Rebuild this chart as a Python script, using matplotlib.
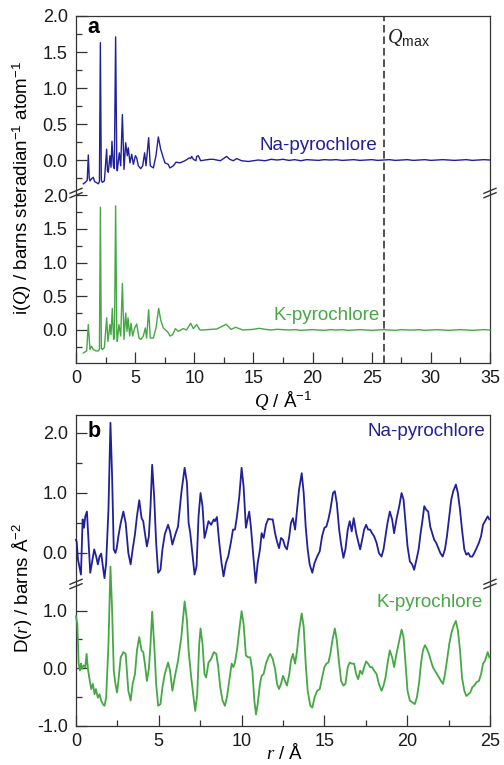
import matplotlib
matplotlib.use('Agg')
import matplotlib.pyplot as plt
from matplotlib.lines import Line2D
from matplotlib.ticker import MultipleLocator, FixedLocator, FormatStrFormatter

plt.rcParams.update({
    'font.family': ['Liberation Sans', 'DejaVu Sans'],
    'mathtext.fontset': 'custom',
    'mathtext.rm': 'Liberation Sans',
    'mathtext.it': 'Liberation Serif:italic',
    'mathtext.bf': 'Liberation Sans:bold',
    'axes.unicode_minus': False,
})

# ---------------- data: panel a, i(Q) ----------------
q_na = [0.62, 0.80, 0.95, 1.04, 1.12, 1.18, 1.32, 1.46, 1.58, 1.69, 1.89, 1.98, 2.06, 2.14, 2.23,
        2.40, 2.59, 2.66, 2.73, 2.87, 2.96, 3.04, 3.16, 3.24, 3.35, 3.45, 3.49, 3.66, 3.78, 3.92,
        4.06, 4.20, 4.34, 4.42, 4.56, 4.71, 4.85, 5.02, 5.13, 5.27, 5.47, 5.64, 5.80, 5.92, 6.14,
        6.28, 6.54, 6.76, 6.96, 7.16, 7.38, 7.52, 7.80, 7.94, 8.23, 8.45, 8.79, 9.21, 9.58, 9.69,
        9.78, 9.92, 10.14, 10.20, 10.34, 10.54, 10.90, 11.33, 11.6, 12.2, 12.73, 13.0, 13.3, 13.58,
        14.0, 14.57, 15.0, 15.4, 16.0, 16.5, 17.0, 17.5, 18.0, 18.5, 19.0, 19.5, 20.0, 20.5, 21.0,
        21.5, 22.0, 22.5, 23.0, 23.5, 24.0, 24.5, 25.0, 25.5, 26.0, 26.5, 27.0, 27.5, 28.0, 28.5,
        29.0, 29.5, 30.0, 30.5, 31.0, 31.5, 32.0, 32.5, 33.0, 33.5, 34.0, 34.5, 35.0]
iq_na = [-0.33, -0.31, -0.28, 0.07, -0.25, -0.29, -0.26, -0.24, -0.30, -0.31, -0.33, -0.30, 1.63, -0.28, -0.31,
         -0.29, 0.15, -0.15, -0.17, 0.06, -0.10, 0.26, -0.08, -0.12, 1.71, -0.10, -0.15, 0.10, -0.08, 0.63,
         -0.13, 0.24, 0.06, 0.17, -0.04, 0.08, -0.06, 0.06, 0.03, -0.08, -0.12, -0.08, 0.10, -0.08, 0.31,
         -0.08, -0.11, 0.06, 0.32, 0.15, 0.03, -0.04, -0.06, -0.11, -0.08, -0.03, -0.04, -0.01, 0.03, 0.02,
         0.05, 0.01, -0.01, 0.05, 0.06, -0.01, 0.00, 0.01, 0.01, -0.01, 0.05, 0.01, -0.01, 0.02,
         -0.01, -0.02, -0.01, 0.00, -0.01, 0.01, 0.00, 0.01, -0.005, 0.005, -0.01, 0.005, 0.0, -0.005, 0.005,
         0.0, 0.005, -0.005, 0.0, 0.005, -0.005, 0.0, 0.005, -0.005, 0.0, 0.005, -0.005, 0.0, 0.005, -0.005,
         0.0, 0.005, -0.005, 0.0, 0.005, 0.0, -0.005, 0.0, 0.005, -0.005, 0.0, 0.005, 0.0]

q_k = [0.62, 0.90, 1.04, 1.18, 1.32, 1.46, 1.69, 1.89, 1.98, 2.06, 2.14, 2.23, 2.40, 2.59, 2.70,
       2.87, 2.96, 3.07, 3.18, 3.25, 3.35, 3.45, 3.49, 3.63, 3.78, 3.92, 4.06, 4.20, 4.31, 4.40,
       4.54, 4.65, 4.79, 4.96, 5.13, 5.33, 5.49, 5.69, 5.86, 5.97, 6.14, 6.28, 6.54, 6.76, 6.99,
       7.16, 7.38, 7.58, 7.80, 7.94, 8.17, 8.40, 8.65, 9.07, 9.35, 9.69, 9.92, 10.20, 10.48, 10.76,
       11.05, 11.9, 12.7, 13.1, 13.5, 14.1, 15.0, 15.5, 16.0, 16.5, 17.0, 17.5, 18.0, 18.5, 19.0,
       19.5, 20.0, 20.5, 21.0, 21.5, 22.0, 22.5, 23.0, 23.5, 24.0, 24.5, 25.0, 25.5, 26.0, 26.5,
       27.0, 27.5, 28.0, 28.5, 29.0, 29.5, 30.0, 30.5, 31.0, 31.5, 32.0, 32.5, 33.0, 33.5, 34.0,
       34.5, 35.0]
iq_k = [-0.34, -0.31, 0.08, -0.29, -0.24, -0.29, -0.31, -0.31, -0.28, 1.82, -0.27, -0.29, -0.26, 0.18, -0.17,
        0.08, -0.07, 0.32, -0.14, -0.12, 1.84, -0.07, -0.17, 0.08, -0.09, 0.69, -0.14, 0.25, -0.02, 0.18,
        -0.09, 0.10, -0.09, 0.03, 0.09, -0.12, -0.14, -0.09, 0.03, -0.12, 0.30, -0.12, -0.12, 0.03, 0.32,
        0.15, 0.03, 0.00, -0.04, -0.09, -0.07, 0.02, -0.02, 0.02, 0.00, 0.10, 0.02, 0.08, 0.00, 0.00,
        0.005, 0.015, 0.085, 0.01, 0.04, 0.0, 0.01, 0.025, 0.01, 0.0, 0.01, 0.005, 0.0, 0.005, -0.005,
        0.0, 0.005, 0.0, -0.005, 0.005, 0.0, 0.005, -0.005, 0.0, 0.005, 0.0, -0.005, 0.0, 0.005, 0.0,
        -0.005, 0.005, 0.0, 0.0, 0.005, -0.005, 0.0, 0.005, 0.0, -0.005, 0.0, 0.005, 0.0, -0.005, 0.0,
        0.005, 0.0]

# ---------------- data: panel b, D(r) ----------------
r_na = [0.00, 0.04, 0.12, 0.20, 0.30, 0.40, 0.48, 0.56, 0.66, 0.76, 0.86, 0.96, 1.10, 1.22, 1.32,
        1.42, 1.52, 1.62, 1.72, 1.82, 1.96, 2.08, 2.18, 2.28, 2.38, 2.46, 2.56, 2.70, 2.86, 3.00,
        3.16, 3.30, 3.42, 3.56, 3.68, 3.82, 3.96, 4.06, 4.16, 4.28, 4.40, 4.50, 4.60, 4.72, 4.84,
        4.96, 5.10, 5.22, 5.36, 5.56, 5.68, 5.82, 6.00, 6.16, 6.36, 6.56, 6.70, 6.80, 6.90, 7.00,
        7.16, 7.28, 7.40, 7.52, 7.64, 7.76, 7.86, 8.00, 8.16, 8.32, 8.39, 8.51, 8.65, 8.79, 8.91,
        9.05, 9.19, 9.35, 9.48, 9.60, 9.72, 9.86, 10.00, 10.12, 10.26, 10.36, 10.46, 10.56, 10.71, 10.85,
        10.97, 11.11, 11.21, 11.33, 11.47, 11.61, 11.73, 11.88, 12.02, 12.14, 12.26, 12.38, 12.50, 12.62, 12.74,
        12.88, 12.98, 13.10, 13.23, 13.35, 13.47, 13.63, 13.75, 13.87, 13.99, 14.11, 14.27, 14.40, 14.56, 14.72,
        14.86, 15.00, 15.12, 15.24, 15.36, 15.52, 15.63, 15.75, 15.89, 16.01, 16.15, 16.27, 16.41, 16.53, 16.65,
        16.77, 16.92, 17.04, 17.16, 17.28, 17.40, 17.52, 17.64, 17.76, 17.88, 18.00, 18.15, 18.29, 18.45, 18.57,
        18.69, 18.81, 18.95, 19.09, 19.21, 19.35, 19.52, 19.66, 19.78, 19.90, 20.02, 20.16, 20.30, 20.42, 20.56,
        20.69, 20.81, 20.93, 21.03, 21.15, 21.27, 21.39, 21.51, 21.63, 21.75, 21.88, 22.00, 22.14, 22.28, 22.40,
        22.54, 22.66, 22.78, 22.94, 23.06, 23.19, 23.31, 23.45, 23.57, 23.69, 23.81, 23.93, 24.05, 24.19, 24.33,
        24.46, 24.58, 24.70, 24.86, 24.96]
d_na = [0.22, 0.19, -0.11, -0.22, -0.36, 0.56, 0.42, 0.61, 0.69, 0.17, -0.33, -0.17, 0.06, -0.06, -0.19,
        -0.06, -0.01, -0.22, -0.42, -0.17, 0.72, 2.17, 1.28, 0.06, 0.00, 0.08, 0.28, 0.50, 0.69, 0.50,
        0.00, -0.19, 0.06, 0.31, 0.61, 0.88, 0.58, 0.53, 0.33, 0.11, 0.28, 0.78, 1.47, 0.94, 0.17,
        -0.33, -0.28, 0.06, 0.31, 0.47, 0.36, 0.14, 0.31, 0.44, 1.00, 1.42, 1.17, 0.50, 0.33, 0.06,
        -0.36, -0.22, 0.61, 1.00, 0.78, 0.25, 0.36, 0.53, 0.47, 0.56, 0.53, 0.60, 0.17, -0.17, -0.39,
        -0.17, -0.06, 0.17, 0.39, 0.39, 0.61, 0.94, 1.42, 1.11, 0.42, 0.56, 0.69, 0.44, -0.06, -0.50,
        -0.17, 0.06, 0.33, 0.25, 0.47, 0.57, 0.56, 0.56, 0.33, 0.19, 0.08, 0.25, 0.22, 0.11, 0.06,
        0.28, 0.50, 0.58, 0.39, 0.72, 1.06, 1.33, 1.00, 0.44, 0.06, -0.19, -0.33, -0.17, -0.06, 0.03,
        0.28, 0.42, 0.44, 0.56, 0.72, 1.00, 1.03, 0.83, 0.39, 0.14, -0.08, 0.06, 0.39, 0.53, 0.36,
        0.58, 0.33, 0.19, 0.06, 0.22, 0.39, 0.47, 0.39, 0.39, 0.33, 0.28, 0.17, 0.00, -0.06, 0.06,
        0.28, 0.50, 0.69, 0.56, 0.33, 0.56, 0.78, 1.00, 0.89, 0.50, 0.11, -0.14, -0.19, -0.28, -0.11,
        0.06, 0.33, 0.56, 0.78, 0.72, 0.69, 0.44, 0.33, 0.22, 0.17, 0.08, 0.00, -0.06, 0.06, 0.28,
        0.61, 0.89, 1.03, 1.14, 1.00, 0.72, 0.39, 0.06, -0.03, 0.00, -0.06, -0.06, 0.00, 0.08, 0.17,
        0.28, 0.47, 0.53, 0.61, 0.56]

r_k = [0.00, 0.02, 0.08, 0.16, 0.24, 0.30, 0.36, 0.46, 0.56, 0.64, 0.72, 0.80, 0.92, 1.02, 1.12,
       1.20, 1.32, 1.42, 1.52, 1.62, 1.72, 1.82, 1.96, 2.08, 2.18, 2.28, 2.38, 2.48, 2.56, 2.70,
       2.86, 3.00, 3.16, 3.30, 3.42, 3.56, 3.68, 3.82, 3.96, 4.06, 4.16, 4.28, 4.40, 4.50, 4.60,
       4.72, 4.84, 4.96, 5.10, 5.22, 5.36, 5.56, 5.68, 5.82, 6.00, 6.16, 6.36, 6.56, 6.70, 6.80,
       6.96, 7.10, 7.20, 7.32, 7.44, 7.52, 7.64, 7.76, 7.86, 8.00, 8.16, 8.32, 8.47, 8.59, 8.71,
       8.85, 8.99, 9.11, 9.25, 9.40, 9.50, 9.60, 9.72, 9.86, 10.00, 10.12, 10.26, 10.40, 10.52, 10.65,
       10.77, 10.87, 10.97, 11.11, 11.21, 11.33, 11.47, 11.61, 11.73, 11.88, 12.02, 12.14, 12.26, 12.38, 12.50,
       12.62, 12.74, 12.88, 12.98, 13.10, 13.23, 13.35, 13.47, 13.63, 13.75, 13.87, 13.99, 14.15, 14.27, 14.40,
       14.56, 14.72, 14.86, 15.00, 15.12, 15.24, 15.36, 15.48, 15.63, 15.75, 15.89, 16.01, 16.15, 16.27, 16.41,
       16.53, 16.65, 16.79, 16.92, 17.04, 17.16, 17.28, 17.40, 17.52, 17.64, 17.76, 17.88, 18.00, 18.15, 18.29,
       18.45, 18.57, 18.69, 18.81, 18.95, 19.09, 19.21, 19.35, 19.52, 19.66, 19.78, 19.90, 20.02, 20.16, 20.30,
       20.46, 20.58, 20.71, 20.83, 20.95, 21.07, 21.19, 21.31, 21.43, 21.55, 21.67, 21.79, 21.92, 22.04, 22.16,
       22.28, 22.40, 22.54, 22.66, 22.78, 22.94, 23.06, 23.19, 23.31, 23.45, 23.57, 23.69, 23.81, 23.93, 24.05,
       24.19, 24.33, 24.46, 24.58, 24.70, 24.86, 24.96]
d_k = [0.90, 0.86, 0.77, 0.08, -0.04, 0.08, -0.01, 0.05, 0.02, 0.25, -0.01, -0.16, -0.36, -0.27, -0.45,
       -0.36, -0.51, -0.45, -0.56, -0.62, -0.65, -0.51, 0.42, 1.76, 1.01, -0.04, -0.27, -0.42, -0.22, 0.19,
       0.28, 0.25, -0.39, -0.56, -0.27, -0.10, 0.31, 0.54, 0.31, 0.28, 0.08, -0.22, -0.01, 0.42, 0.98,
       0.42, -0.27, -0.65, -0.62, -0.33, -0.10, 0.10, -0.04, -0.39, -0.10, 0.13, 0.54, 1.16, 0.83, 0.31,
       -0.16, -0.51, -0.74, -0.45, 0.42, 0.69, 0.42, -0.10, -0.16, 0.10, 0.16, 0.28, 0.25, 0.02, -0.33,
       -0.56, -0.65, -0.51, -0.22, 0.08, 0.02, 0.10, 0.31, 0.66, 0.99, 0.77, 0.22, 0.19, 0.19, -0.04,
       -0.56, -0.80, -0.62, -0.27, -0.13, -0.10, 0.08, 0.19, 0.25, 0.16, -0.01, -0.27, -0.36, -0.27, -0.13,
       -0.22, -0.30, -0.10, 0.13, 0.25, 0.08, 0.31, 0.66, 0.95, 0.72, 0.08, -0.39, -0.65, -0.68, -0.51,
       -0.39, -0.36, -0.16, 0.02, 0.08, 0.10, 0.25, 0.48, 0.69, 0.48, 0.08, -0.22, -0.30, -0.27, 0.02,
       0.10, 0.08, 0.08, -0.10, -0.19, -0.04, -0.10, 0.02, 0.12, 0.08, 0.02, 0.02, -0.04, -0.10, -0.27,
       -0.39, -0.30, -0.16, 0.08, 0.31, 0.19, 0.02, 0.25, 0.48, 0.67, 0.54, 0.08, -0.39, -0.56, -0.59,
       -0.62, -0.51, -0.27, 0.08, 0.31, 0.40, 0.34, 0.25, 0.13, 0.02, -0.04, -0.10, -0.16, -0.22, -0.27,
       -0.10, 0.13, 0.42, 0.60, 0.72, 0.82, 0.66, 0.31, -0.16, -0.39, -0.48, -0.45, -0.42, -0.33, -0.30,
       -0.24, -0.22, -0.10, 0.08, 0.13, 0.28, 0.19]

q_max = 26.0
names = ['Na-pyrochlore', 'K-pyrochlore']

BLUE = '#20209a'
GREEN = '#45a845'
SPINE = '#333333'

# ---------------- layout ----------------
W_PX, H_PX = 504, 765
fig = plt.figure(figsize=(W_PX / 100, H_PX / 100), dpi=100)
L_PX, R_PX = 76, 490


def fy(py):
    return 1 - py / H_PX


def add(top, bot):
    return fig.add_axes([L_PX / W_PX, fy(bot), (R_PX - L_PX) / W_PX, (bot - top) / H_PX])


axa1 = add(16, 193)
axa2 = add(193, 363)
axb1 = add(415, 584)
axb2 = add(584, 726)


def style(ax, upper, xmax, ymaj, ymin_ticks, ylim):
    for s in ax.spines.values():
        s.set_color(SPINE)
        s.set_linewidth(0.9)
    ax.patch.set_visible(False)
    if upper:
        ax.spines['bottom'].set_visible(False)
    else:
        ax.spines['top'].set_visible(False)
    ax.set_xlim(0, xmax)
    ax.set_ylim(*ylim)
    ax.xaxis.set_major_locator(MultipleLocator(5))
    ax.xaxis.set_minor_locator(MultipleLocator(2.5))
    ax.yaxis.set_major_locator(MultipleLocator(ymaj))
    ax.yaxis.set_minor_locator(FixedLocator(ymin_ticks))
    ax.yaxis.set_major_formatter(FormatStrFormatter('%.1f'))
    ax.tick_params(which='both', direction='in', top=False, right=False,
                   color=SPINE, labelsize=13, pad=6, labelcolor='#1a1a1a')
    ax.tick_params(axis='x', pad=5)
    ax.tick_params(which='major', length=8, width=0.9)
    ax.tick_params(which='minor', length=4, width=0.9)
    if upper:
        ax.tick_params(axis='x', which='both', bottom=False, labelbottom=False)


style(axa1, True, 35, 0.5, [-0.25, 0.25, 0.75, 1.25, 1.75], (-0.458, 2.0))
style(axa2, False, 35, 0.5, [-0.25, 0.25, 0.75, 1.25, 1.75], (-0.489, 2.03))
style(axb1, True, 25, 1.0, [0.5, 1.5], (-0.517, 2.3))
style(axb2, False, 25, 1.0, [-0.5, 0.5], (-1.0, 1.46))

# ---------------- curves ----------------
axa1.plot(q_na, iq_na, color=BLUE, lw=1.0, clip_on=False, zorder=3)
axa2.plot(q_k, iq_k, color=GREEN, lw=1.0, clip_on=False, zorder=3)
axb1.plot(r_na, d_na, color=BLUE, lw=1.3, clip_on=False, zorder=3)
axb2.plot(r_k, d_k, color=GREEN, lw=1.3, clip_on=False, zorder=3)

for ax in (axa1, axa2):
    ax.axvline(q_max, color='#222222', lw=1.1, ls=(0, (5, 2.5)), zorder=2)

axa1.text(q_max + 0.3, 1.625, r'$Q_{\mathrm{max}}$', fontsize=14.5, va='baseline', ha='left', color='#222222')

# series labels
axa1.text(25.45, 0.139, names[0], color=BLUE, fontsize=13.5, ha='right', va='baseline')
axa2.text(25.7, 0.148, names[1], color=GREEN, fontsize=13.5, ha='right', va='baseline')
axb1.text(24.7, 1.95, names[0], color=BLUE, fontsize=13.5, ha='right', va='baseline')
axb2.text(24.58, 1.06, names[1], color=GREEN, fontsize=13.5, ha='right', va='baseline')

# panel letters
axa1.text(11 / 414, 1 - 17 / 177, 'a', transform=axa1.transAxes, fontsize=15.5, fontweight='bold', va='baseline')
axb1.text(12 / 414, 1 - 22 / 169, 'b', transform=axb1.transAxes, fontsize=15.5, fontweight='bold', va='baseline')

# axis labels
fig.text(283 / W_PX, fy(400), r'$Q$ / Å$^{-1}$', ha='center', va='center', fontsize=13.5)
fig.text(285 / W_PX, fy(753), r'$r$ / Å', ha='center', va='center', fontsize=13.5)
fig.text(22 / W_PX, fy(188), r'i($Q$) / barns steradian$^{-1}$ atom$^{-1}$', rotation=90,
         ha='center', va='center', fontsize=13.5)
fig.text(22 / W_PX, fy(588), r'D($r$) / barns Å$^{-2}$', rotation=90,
         ha='center', va='center', fontsize=13.5)


# break marks
def brk(xp, yp):
    for dy in (-2.2, 2.2):
        fig.add_artist(Line2D([(xp - 6) / W_PX, (xp + 6) / W_PX],
                              [fy(yp + dy + 2.5), fy(yp + dy - 2.5)],
                              transform=fig.transFigure, color=SPINE, lw=1.0))


brk(L_PX, 193)
brk(R_PX, 193)
brk(L_PX, 584)
brk(R_PX, 584)

fig.savefig('out.png', dpi=100)
